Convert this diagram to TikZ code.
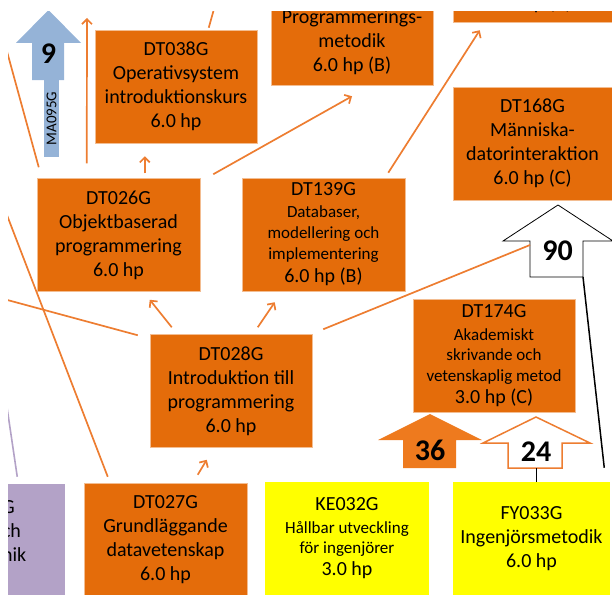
\documentclass[tikz,border=0pt]{standalone}
\usepackage{fontspec}
\setmainfont{Carlito}
\usetikzlibrary{positioning,calc,arrows.meta}

\definecolor{boxorange}{HTML}{E46C0A}
\definecolor{lineorange}{HTML}{ED7D31}
\definecolor{arroworange}{HTML}{EE7A1E}
\definecolor{courseyellow}{HTML}{FFFF00}
\definecolor{coursepurple}{HTML}{B3A2C7}
\definecolor{mathblue}{HTML}{95B3D7}

\begin{document}
\begin{tikzpicture}[x=1pt, y=-1pt,
	course/.style={rectangle, fill=boxorange, draw=boxorange!45!white, line width=0.5pt, minimum width=162, minimum height=113, inner sep=0pt, align=center, font=\fontsize{20}{24}\selectfont, execute at begin node={\rule{0pt}{18pt}}},
	yellowcourse/.style={course, fill=courseyellow, draw=none},
	link/.style={draw=lineorange, line width=1.7pt},
	prereq/.style={link, -{Straight Barb[length=5pt, width=10pt]}},
	credit/.style={inner sep=0pt, font=\fontsize{30}{30}\selectfont\bfseries}]
	\useasboundingbox (0,0) rectangle (612,594);
	\clip (8,12) rectangle (612,594);
	% courses
	\node [course] (dt038) at (176,86.5) {DT038G\\Operativsystem\\introduktionskurs\\6.0 hp};
	\node [course, minimum height=85] (prog) at (352,42.5) {Programmerings-\\metodik\\6.0 hp (B)};
	\node [course, minimum width=159, minimum height=40] (rtop) at (532.5,2) {6.0 hp (C)};
	\node [course, minimum width=159] (dt168) at (532.5,143.5) {DT168G\\Människa-\\datorinteraktion\\6.0 hp (C)};
	\node [course, minimum width=163] (dt026) at (118.5,235) {DT026G\\Objektbaserad\\programmering\\6.0 hp};
	\node [course, minimum width=163] (dt139) at (323.5,234.5) {DT139G\\[-2pt]{\fontsize{17}{20}\selectfont Databaser,}\\[-3pt]{\fontsize{17}{20}\selectfont modellering och}\\[-3pt]{\fontsize{17}{20}\selectfont implementering}\\[-1pt]6.0 hp (B)};
	\node [course] (dt028) at (231,391) {DT028G\\Introduktion till\\programmering\\6.0 hp};
	\node [course] (dt174) at (494,355.5) {DT174G\\[-1pt]{\fontsize{17}{20}\selectfont Akademiskt}\\[-4pt]{\fontsize{17}{20}\selectfont skrivande och}\\[-3pt]{\fontsize{17}{20}\selectfont vetenskaplig metod}\\[-2pt]3.0 hp (C)};
	\node [course, minimum width=163] (dt027) at (165.5,539.5) {DT027G\\Grundläggande\\datavetenskap\\6.0 hp};
	\node [yellowcourse, minimum width=164] (ke032) at (347,538.5) {KE032G\\[-1pt]{\fontsize{17}{20}\selectfont Hållbar utveckling}\\[-4pt]{\fontsize{17}{20}\selectfont för ingenjörer}\\[-2pt]3.0 hp};
	\node [yellowcourse, minimum width=157] (fy033) at (531.5,538.5) {FY033G\\Ingenjörsmetodik\\6.0 hp};
	\node [course, fill=coursepurple, draw=none, minimum width=63, text width=63, align=left] (purp) at (33.5,540.5) {G\\ch\\nik\\\mbox{}};
	% block arrows
	\fill [mathblue] (32,80) -- (32,43) -- (16,43) -- (48.5,10) -- (81,43) -- (64,43) -- (64,80) -- cycle;
	\node [rectangle, fill=mathblue, rotate=90, minimum width=77, minimum height=15, inner sep=0pt, font=\fontsize{15}{15}\selectfont] (ma095) at (51.5,118.5) {MA095G};
	\draw [fill=white, draw=black, line width=0.8pt] (530,277) -- (530,241) -- (503,241) -- (558,205) -- (613,241) -- (583,241) -- (583,277) -- cycle;
	\fill [arroworange] (403,468) -- (403,440) -- (378,440) -- (430,414) -- (482,440) -- (456,440) -- (456,468) -- cycle;
	\draw [fill=white, draw=lineorange, line width=1.5pt] (508,468) -- (508,443) -- (483,443) -- (536,417) -- (590,443) -- (562,443) -- (562,468) -- cycle;
	\node [credit] (c9) at (48.5,54) {9};
	\node [credit] (c90) at (557.5,251) {90};
	\node [credit] (c36) at (430,450) {36};
	\node [credit] (c24) at (536,452) {24};
	% free ends
	\coordinate (n1) at (87,18);
	\coordinate (n2) at (216.5,0);
	\coordinate (w1) at (0,26);
	\coordinate (w2) at (0,197);
	\coordinate (w3) at (0,298);
	\coordinate (w4) at (0,360);
	% connectors
	\draw [prereq] ($(dt026.north west)+(50,-15)$) -- (n1);
	\draw [link] ($(dt038.north west)+(114,-2)$) -- (n2);
	\draw [prereq] ($(dt026.north west)+(108,-5)$) -- ($(dt038.south west)+(50,13)$);
	\draw [prereq] ($(dt026.north east)+(13,-4)$) -- ($(prog.south)+(0,11)$);
	\draw [prereq] ($(dt139.north east)+(-17,-5)$) -- ($(rtop.south west)+(27,8)$);
	\draw [link] ($(dt026.north west)+(2,-11)$) -- (w1);
	\draw [link] ($(dt027.north west)+(24,-6)$) -- (w2);
	\draw [link] ($(dt028.north west)+(-12,1)$) -- (w3);
	\draw [prereq] ($(dt028.north west)+(22,-7)$) -- ($(dt026.south west)+(113,8)$);
	\draw [prereq] ($(dt028.north west)+(108,-7)$) -- ($(dt139.south west)+(33,11)$);
	\draw [link] ($(dt028.north east)+(11,-5)$) -- ($(c90)+(-27.5,-6)$);
	\draw [prereq] ($(dt027.north west)+(114,-8)$) -- ($(dt028.south west)+(57,12)$);
	\draw [draw=coursepurple, line width=1.6pt] ($(purp.north east)+(-48,-7)$) -- (w4);
	\draw [black, line width=1.5pt] ($(fy033.north east)+(-6,-14)$) -- ($(c90)+(25.5,26)$);
	\draw [black, line width=1.5pt] ($(fy033.north)+(5,0)$) -- ($(c24)+(0.5,16)$);
\end{tikzpicture}
\end{document}
